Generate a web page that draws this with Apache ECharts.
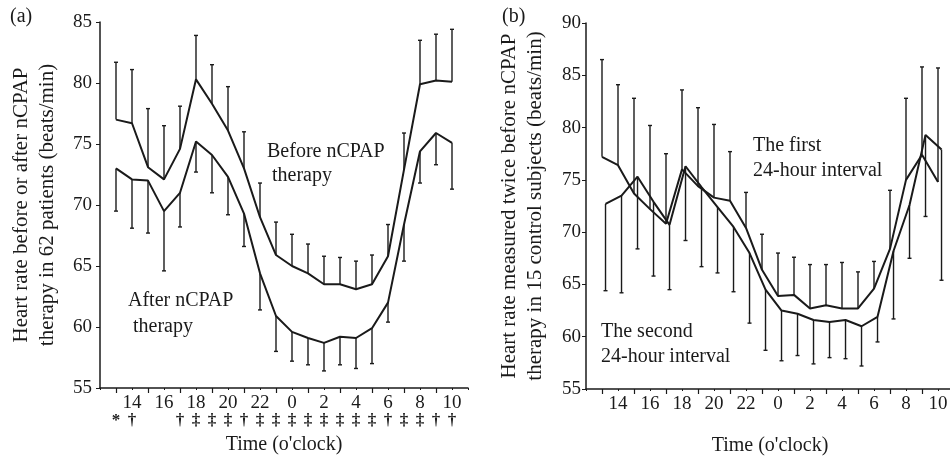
<!DOCTYPE html>
<html lang="en">
<head>
    <meta charset="UTF-8">
    <title>heart-rate-ncpap</title>
    <script type="text/javascript" src="https://cdn.jsdelivr.net/npm/echarts@6/dist/echarts.min.js"></script>
    <style>
        html, body { margin: 0; padding: 0; background: #fff; }
    </style>
</head>
<body>
<div id="chart" style="width: 950px;height: 457px;"></div>
<script type="text/javascript">
    // hours on a continuous scale: 13..23 then 0..10 of the next day (24..34)
    var hours = [13, 14, 15, 16, 17, 18, 19, 20, 21, 22, 23, 24, 25, 26, 27, 28, 29, 30, 31, 32, 33, 34];

    // (a) 62 patients
    var beforeMean = [77.0, 76.7, 73.1, 72.1, 74.6, 80.3, 78.3, 76.1, 73.0, 69.0, 65.9, 65.0, 64.4, 63.5, 63.5, 63.1, 63.5, 65.8, 72.9, 79.9, 80.2, 80.1];
    var beforeTop = [81.7, 81.1, 77.9, 76.5, 78.1, 83.9, 81.5, 79.7, 76.0, 71.8, 68.6, 67.6, 66.8, 65.8, 65.7, 65.4, 65.9, 68.4, 75.9, 83.5, 84.0, 84.4];
    var afterMean = [73.0, 72.1, 72.0, 69.5, 71.0, 75.2, 74.1, 72.3, 69.3, 64.4, 60.9, 59.6, 59.1, 58.7, 59.2, 59.1, 59.9, 62.0, 68.4, 74.4, 75.9, 75.1];
    var afterBottom = [69.5, 68.1, 67.7, 64.6, 68.2, 72.7, 71.0, 69.2, 66.6, 61.4, 58.0, 57.2, 56.9, 56.4, 56.9, 56.6, 57.0, 60.4, 65.4, 71.8, 73.3, 71.3];
    var sigLabels = ['*', '†', '', '', '†', '‡', '‡', '‡', '†', '‡', '‡', '‡', '‡', '‡', '‡', '‡', '‡', '†', '‡', '‡', '†', '†'];

    // (b) 15 control subjects
    var firstMean = [77.2, 76.4, 73.7, 72.2, 70.8, 76.0, 74.4, 73.3, 73.0, 70.4, 66.4, 63.9, 64.0, 62.7, 63.0, 62.7, 62.7, 64.6, 68.4, 75.0, 77.4, 74.8];
    var firstTop = [86.5, 84.1, 82.8, 80.2, 77.5, 83.6, 81.9, 80.3, 77.7, 73.8, 69.8, 68.0, 67.6, 66.9, 66.9, 67.1, 66.2, 67.2, 74.0, 82.8, 85.8, 85.7];
    var secondMean = [72.7, 73.5, 75.3, 72.9, 70.7, 76.3, 74.3, 72.4, 70.5, 68.0, 64.5, 62.5, 62.2, 61.6, 61.4, 61.6, 61.0, 61.9, 68.2, 72.6, 79.3, 77.9];
    var secondBottom = [64.4, 64.2, 68.4, 65.8, 64.5, 69.2, 66.7, 66.1, 64.3, 61.3, 58.7, 57.7, 58.2, 57.4, 58.0, 57.9, 57.2, 59.5, 61.7, 67.5, 71.5, 65.4];

    var INK = '#1a1a1a';
    var FONT = 'Liberation Serif';
    var SHIFT_B = 0.22; // second interval drawn slightly right of the first

    var pairs = function (xs, ys, dx) {
        return xs.map(function (h, i) { return [h + (dx || 0), ys[i]]; });
    };
    var barData = function (xs, from, to, dx) {
        return xs.map(function (h, i) { return [h + (dx || 0), from[i], to[i]]; });
    };
    var errorBars = function (data, xi, yi) {
        return {
            type: 'custom',
            xAxisIndex: xi,
            yAxisIndex: yi,
            silent: true,
            data: data,
            encode: {x: 0, y: [1, 2]},
            renderItem: function (params, api) {
                var p0 = api.coord([api.value(0), api.value(1)]);
                var p1 = api.coord([api.value(0), api.value(2)]);
                var st = {stroke: INK, lineWidth: 1.4};
                return {
                    type: 'group',
                    children: [
                        {type: 'line', shape: {x1: p0[0], y1: p0[1], x2: p1[0], y2: p1[1]}, style: st},
                        {type: 'line', shape: {x1: p1[0] - 2, y1: p1[1], x2: p1[0] + 2, y2: p1[1]}, style: st}
                    ]
                };
            }
        };
    };
    var meanLine = function (data, xi, yi) {
        return {
            type: 'line',
            xAxisIndex: xi,
            yAxisIndex: yi,
            symbol: 'none',
            silent: true,
            lineStyle: {color: INK, width: 2},
            data: data
        };
    };
    var hourLabel = function (v) {
        return (v > 12 && v < 35 && v % 2 === 0) ? String(v % 24) : '';
    };
    var timeAxis = function (gi) {
        return {
            type: 'value',
            gridIndex: gi,
            position: 'bottom',
            min: 12,
            max: 35,
            interval: 2,
            name: 'Time (o\'clock)',
            nameLocation: 'middle',
            nameGap: 47,
            nameTextStyle: {color: INK, fontFamily: FONT, fontSize: 20},
            axisLine: {lineStyle: {color: INK, width: 1.5}},
            axisTick: {length: 2, lineStyle: {color: INK}},
            minorTick: {show: true, splitNumber: 2, length: 5, lineStyle: {color: INK, width: 1.2}},
            splitLine: {show: false},
            axisLabel: {color: INK, fontFamily: FONT, fontSize: 19, margin: 6, formatter: hourLabel, showMinLabel: true, showMaxLabel: true}
        };
    };
    var rateAxis = function (gi, max, name, gap, margin) {
        return {
            type: 'value',
            gridIndex: gi,
            min: 55,
            max: max,
            interval: 5,
            name: name,
            nameLocation: 'middle',
            nameGap: gap,
            nameTextStyle: {color: INK, fontFamily: FONT, fontSize: 21, lineHeight: 26},
            axisLine: {show: true, lineStyle: {color: INK, width: 1.5}},
            axisTick: {show: true, length: 4, lineStyle: {color: INK}},
            splitLine: {show: false},
            axisLabel: {color: INK, fontFamily: FONT, fontSize: 19, margin: margin}
        };
    };

    // second bottom axis of panel (a) carrying the significance marks
    var sigAxis = {
        type: 'value',
        gridIndex: 0,
        position: 'bottom',
        offset: 0,
        min: 12,
        max: 35,
        interval: 1,
        axisLine: {show: false},
        axisTick: {show: false},
        splitLine: {show: false},
        axisLabel: {
            color: INK, fontFamily: FONT, fontSize: 17, fontWeight: 'bold', margin: 24,
            formatter: function (v) {
                var i = hours.indexOf(v);
                return i < 0 ? '' : sigLabels[i];
            }
        }
    };

    var chart = echarts.init(document.getElementById('chart'));
    var textStyle = {fill: INK, font: '20px "Liberation Serif"'};
    var option = {
        backgroundColor: '#fff',
        animation: false,
        title: [
            {text: '(a)', left: 5, top: 2, textStyle: {color: INK, fontFamily: FONT, fontSize: 20, fontWeight: 'normal'}},
            {text: '(b)', left: 497, top: 2, textStyle: {color: INK, fontFamily: FONT, fontSize: 20, fontWeight: 'normal'}}
        ],
        grid: [
            {left: 100, top: 22, width: 368, height: 366, outerBoundsMode: 'none', containLabel: false},
            {left: 586, top: 23, width: 368, height: 366, outerBoundsMode: 'none', containLabel: false}
        ],
        xAxis: [timeAxis(0), timeAxis(1), sigAxis],
        yAxis: [
            rateAxis(0, 85, 'Heart rate before or after nCPAP\ntherapy in 62 patients (beats/min)', 40, 8),
            rateAxis(1, 90, 'Heart rate measured twice before nCPAP\ntherapy in 15 control subjects (beats/min)', 38, 5)
        ],
        graphic: [
            {type: 'text', left: 267, top: 140, style: Object.assign({text: 'Before nCPAP\n therapy', lineHeight: 24}, textStyle)},
            {type: 'text', left: 128, top: 288, style: Object.assign({text: 'After nCPAP\n therapy', lineHeight: 26}, textStyle)},
            {type: 'text', left: 753, top: 133, style: Object.assign({text: 'The first\n24-hour interval', lineHeight: 25}, textStyle)},
            {type: 'text', left: 601, top: 319, style: Object.assign({text: 'The second\n24-hour interval', lineHeight: 25}, textStyle)}
        ],
        series: [
            errorBars(barData(hours, beforeMean, beforeTop), 0, 0),
            errorBars(barData(hours, afterMean, afterBottom), 0, 0),
            meanLine(pairs(hours, beforeMean), 0, 0),
            meanLine(pairs(hours, afterMean), 0, 0),
            errorBars(barData(hours, firstMean, firstTop), 1, 1),
            errorBars(barData(hours, secondMean, secondBottom, SHIFT_B), 1, 1),
            meanLine(pairs(hours, firstMean), 1, 1),
            meanLine(pairs(hours, secondMean, SHIFT_B), 1, 1)
        ]
    };
    chart.setOption(option);
</script>
</body>
</html>
